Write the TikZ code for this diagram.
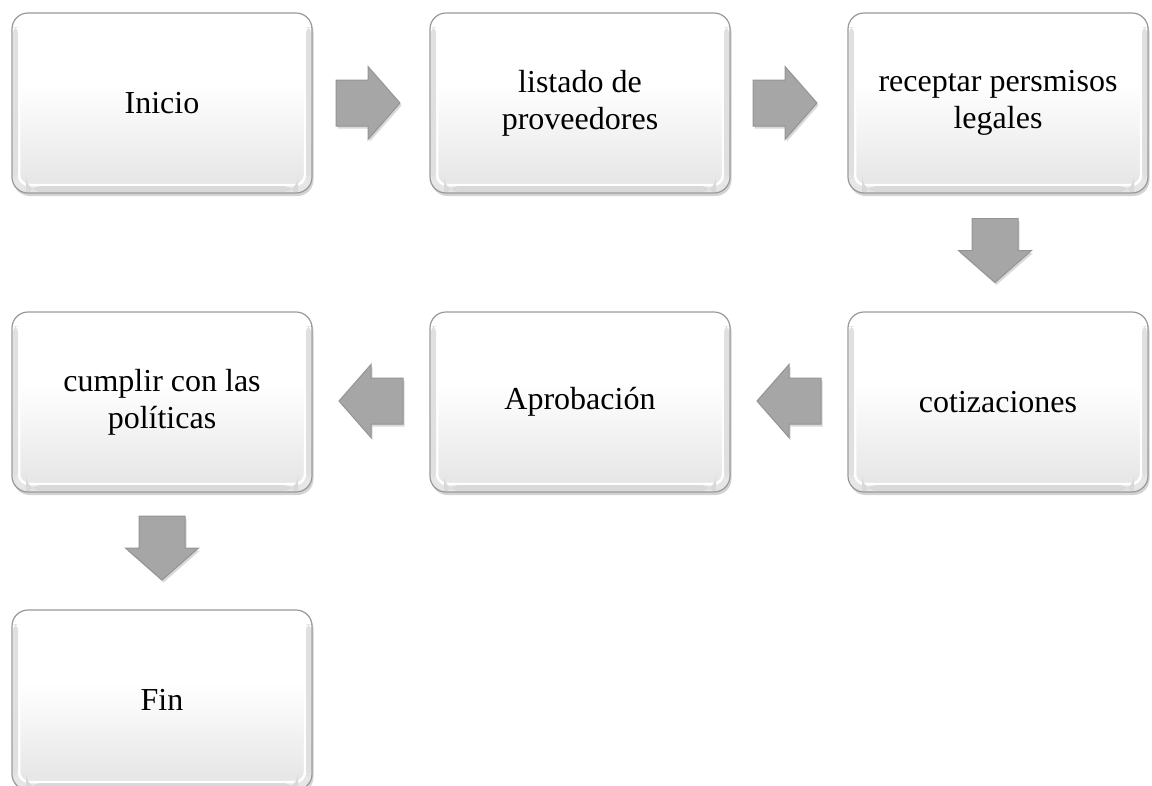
\documentclass[tikz,border=0pt]{standalone}
\usepackage{fontspec}
\setmainfont{Liberation Serif}
\usetikzlibrary{shadows,calc}
\pgfdeclareverticalshading{boxshade}{100bp}{color(0bp)=(black!17); color(30bp)=(black!9); color(55bp)=(white); color(100bp)=(white)}
\begin{document}
\begin{tikzpicture}[x=1pt,y=-1pt,
  gbox/.style={rounded corners=16pt, minimum width=300pt, minimum height=180pt,
    inner sep=0pt, align=center, font=\fontsize{32}{37}\selectfont,
    draw=black!40, line width=1.2pt, shading=boxshade,
    drop shadow={opacity=0.35, shadow xshift=1.5pt, shadow yshift=-3pt},
    path picture={
      \draw[white, line width=2.5pt, rounded corners=10pt]
        ([shift={(7pt,-7pt)}]path picture bounding box.north west) rectangle
        ([shift={(-7pt,8pt)}]path picture bounding box.south east);
      \fill[black!12, rounded corners=6pt]
        ([shift={(1pt,-14pt)}]path picture bounding box.north west) rectangle
        ([shift={(6pt,14pt)}]path picture bounding box.south west);
      \fill[black!12, rounded corners=6pt]
        ([shift={(-6pt,-14pt)}]path picture bounding box.north east) rectangle
        ([shift={(-1pt,14pt)}]path picture bounding box.south east);
      \fill[black!15]
        ([shift={(14pt,1pt)}]path picture bounding box.south west) rectangle
        ([shift={(-14pt,7pt)}]path picture bounding box.south east);
    }},
  arrowfill/.style={fill=black!35, draw=black!42, line width=1pt,
    drop shadow={opacity=0.3, shadow xshift=1.5pt, shadow yshift=-2.5pt}},
  blockarrow/.pic={
    \path[arrowfill] (-32,-23) -- (0,-23) -- (0,-36.5) -- (32,0) -- (0,36.5)
      -- (0,23) -- (-32,23) -- cycle;
  }
]
\useasboundingbox (0,0) rectangle (1152,785);

\node[gbox] (n1) at (162,103) {Inicio};
\node[gbox] (n2) at (580,103) {listado de\\proveedores};
\node[gbox] (n3) at (998,103) {receptar persmisos\\legales};
\node[gbox] (n4) at (998,402) {cotizaciones};
\node[gbox] (n5) at (580,402) {Aprobación};
\node[gbox] (n6) at (162,402) {cumplir con las\\políticas};
\node[gbox] (n7) at (162,700) {Fin};

\pic (a1) at ($(n1.east)!0.5!(n2.west)+(-3,0)$) {blockarrow};
\pic (a2) at ($(n2.east)!0.5!(n3.west)+(-4,0)$) {blockarrow};
\pic[rotate=-90] (a3) at ($(n3.south)!0.5!(n4.north)+(-3,-2)$) {blockarrow};
\pic[rotate=180] (a4) at ($(n4.west)!0.5!(n5.east)+(0,-1)$) {blockarrow};
\pic[rotate=180] (a5) at ($(n5.west)!0.5!(n6.east)+(0,-1)$) {blockarrow};
\pic[rotate=-90] (a6) at ($(n6.south)!0.5!(n7.north)+(0,-3)$) {blockarrow};
\end{tikzpicture}
\end{document}
